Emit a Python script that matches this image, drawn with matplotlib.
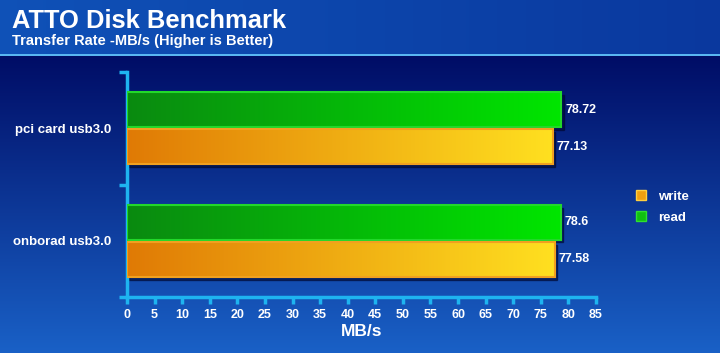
import matplotlib
matplotlib.use("Agg")
import matplotlib.pyplot as plt
import numpy as np
from matplotlib.colors import LinearSegmentedColormap
from matplotlib.patches import Patch

# data
categories = ["onborad usb3.0", "pci card usb3.0"]
write_vals = [77.58, 77.13]
read_vals = [78.6, 78.72]
x_ticks = list(range(0, 90, 5))

plt.rcParams['font.family'] = ['Liberation Sans', 'DejaVu Sans']
plt.rcParams['font.weight'] = 'bold'

W, H = 720, 353
fig = plt.figure(figsize=(7.2, 3.53), dpi=100)

# --- background ---
bg = np.zeros((H, W, 3))
xx = np.arange(W)[None, :]
top = np.array([0.06, 0.32, 0.72])
top_r = np.array([0.04, 0.22, 0.62])
t = xx / W
header = top * (1 - t[..., None]) + top_r * t[..., None]
bg[:54] = np.broadcast_to(header, (54, W, 3))
bg[54:56] = [0.35, 0.72, 0.95]
dark = np.array([0.0, 0.05, 0.40])
light = np.array([0.10, 0.38, 0.78])
s = ((np.arange(56, H) - 56) / (H - 56))[:, None]
grad = dark * (1 - s) + light * s
bg[56:] = grad[:, None, :]
bax = fig.add_axes([0, 0, 1, 1], zorder=-10)
bax.imshow(bg, aspect='auto', extent=[0, 1, 0, 1])
bax.axis('off')

fig.text(12 / W, 1 - 28 / H, "ATTO Disk Benchmark", color='white', fontsize=18.4, weight='bold')
fig.text(12 / W, 1 - 45 / H, "Transfer Rate -MB/s (Higher is Better)", color='white', fontsize=10.5, weight='bold')

# --- chart ---
ax = fig.add_axes([127 / W, 1 - 297 / H, (596 - 127) / W, (297 - 72) / H])
ax.patch.set_alpha(0)

y = np.arange(len(categories))
h = 0.31
green = LinearSegmentedColormap.from_list('g', ['#0a8a10', '#00e600'])
orange = LinearSegmentedColormap.from_list('o', ['#e07a05', '#ffe020'])
gradrow = np.linspace(0, 1, 256)[None, :]

def draw_bars(vals, offset, cmap, edge):
    bars = ax.barh(y + offset, vals, height=h, facecolor='none', edgecolor=edge, linewidth=1.5, zorder=4)
    for b in bars:
        x0, y0 = b.get_x(), b.get_y()
        ax.imshow(gradrow, cmap=cmap, aspect='auto', zorder=3,
                  extent=[x0, x0 + b.get_width(), y0, y0 + b.get_height()])
        # drop shadow
        ax.add_patch(plt.Rectangle((x0 + 0.4, y0 - 0.025), b.get_width(), b.get_height(),
                                   color='#000830', alpha=0.6, zorder=2))
    return bars

rb = draw_bars(read_vals, 0.165, green, '#22d82a')
wb = draw_bars(write_vals, -0.165, orange, '#f0a020')

for b, v in zip(rb, read_vals):
    ax.text(b.get_width() + 0.7, b.get_y() + b.get_height() / 2, f"{v:g}",
            color='white', fontsize=9, weight='bold', va='center', ha='left')
for b, v in zip(wb, write_vals):
    ax.text(b.get_width() + 0.7, b.get_y() + b.get_height() / 2, f"{v:g}",
            color='white', fontsize=9, weight='bold', va='center', ha='left')

ax.set_xlim(0, 85)
ax.set_ylim(-0.5, 1.5)
ax.set_xticks(x_ticks)
ax.set_xticklabels([str(v) for v in x_ticks])
ax.set_yticks(y)
ax.set_yticklabels(categories)
ax.set_yticks([-0.5, 0.5, 1.5], minor=True)

spine_c = '#1eb4f0'
for side in ['top', 'right']:
    ax.spines[side].set_visible(False)
for side in ['left', 'bottom']:
    ax.spines[side].set_color(spine_c)
    ax.spines[side].set_linewidth(2.5)
ax.tick_params(axis='x', colors=spine_c, length=5, width=2.5, labelcolor='white', labelsize=9, pad=4)
ax.tick_params(axis='y', which='major', length=0, labelcolor='white', labelsize=9.5, pad=11)
ax.tick_params(axis='y', which='minor', colors=spine_c, length=6, width=2.5)
for lbl in ax.get_xticklabels() + ax.get_yticklabels():
    lbl.set_fontweight('bold')
ax.set_xlabel("MB/s", color='white', fontsize=12.5, weight='bold', labelpad=2)

handles = [Patch(facecolor='#f0a010', edgecolor='#ffd040', label='write'),
           Patch(facecolor='#10c010', edgecolor='#30e030', label='read')]
fig.legend(handles=handles, loc='center left', bbox_to_anchor=(624 / W, 1 - 207 / H),
           frameon=False, labelcolor='white', prop={'weight': 'bold', 'size': 9.5},
           handlelength=0.75, handleheight=0.75, handletextpad=0.9, labelspacing=0.65)

fig.savefig("out.png", dpi=100)
